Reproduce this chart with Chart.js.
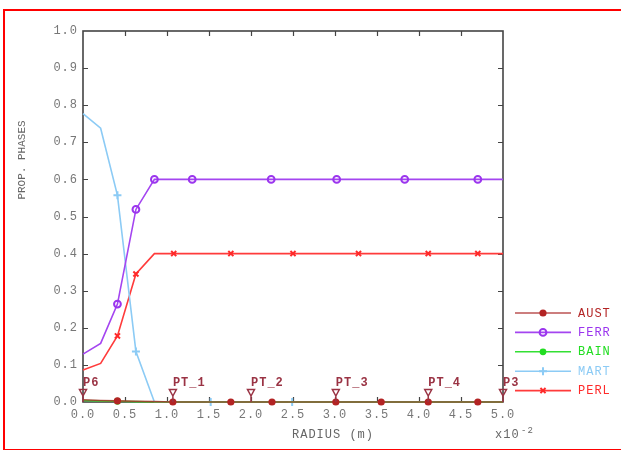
<!DOCTYPE html>
<html>
<head>
<meta charset="utf-8">
<script src="https://cdn.jsdelivr.net/npm/chart.js@4.4.1/dist/chart.umd.min.js"></script>
<style>
  html, body { margin: 0; padding: 0; background: #fff; }
  #wrap { position: relative; width: 621px; height: 450px; overflow: hidden; }
  #frame { position: absolute; left: 3px; top: 9px; width: 640px; height: 438px; border: 2px solid #f00; }
  canvas { position: absolute; left: 0; top: 0; }
</style>
</head>
<body>
<div id="wrap"><div id="frame"></div><canvas id="chart" width="621" height="450"></canvas></div>
<script>
// radius in units of 1e-2 m
const austX = [0, 0.21, 0.41, 0.63, 0.85, 1.07, 1.76, 2.25, 3.01, 3.55, 4.11, 4.70, 5.0];
const austY = [0.006, 0.004, 0.003, 0.002, 0.001, 0, 0, 0, 0, 0, 0, 0, 0];
const austMarks = [2, 5, 6, 7, 8, 9, 10, 11];

const ferrX = [0, 0.21, 0.41, 0.63, 0.85, 1.30, 2.24, 3.02, 3.83, 4.70, 5.0];
const ferrY = [0.129, 0.158, 0.264, 0.519, 0.600, 0.600, 0.600, 0.600, 0.600, 0.600, 0.600];
const ferrMarks = [2, 3, 4, 5, 6, 7, 8, 9];

const bainX = [0, 0.21, 0.41, 0.63, 0.85, 5.0];
const bainY = [0.004, 0.003, 0.002, 0.001, 0, 0];
const bainMarks = [2];

const martX = [0, 0.21, 0.41, 0.63, 0.85, 1.52, 2.49, 5.0];
const martY = [0.777, 0.738, 0.557, 0.136, 0, 0, 0, 0];
const martMarks = [2, 3, 5, 6];

const perlX = [0, 0.21, 0.41, 0.63, 0.85, 1.08, 1.76, 2.50, 3.28, 4.11, 4.70, 5.0];
const perlY = [0.086, 0.104, 0.178, 0.345, 0.400, 0.400, 0.400, 0.400, 0.400, 0.400, 0.400, 0.400];
const perlMarks = [2, 3, 5, 6, 7, 8, 9, 10];

const ptLabels = ['P6', 'PT_1', 'PT_2', 'PT_3', 'PT_4', 'P3'];
const ptPos = [0, 1.07, 2.0, 3.01, 4.11, 5.0];

const MONO = '"Liberation Mono", "DejaVu Sans Mono", monospace';

function pts(xs, ys) {
    return xs.map((x, i) => ({ x: x, y: ys[i] }));
}
function radii(xs, marks, r) {
    return xs.map((_, i) => marks.includes(i) ? r : 0);
}

function series(label, xs, ys, marks, color, lineColor, style, r, fill) {
    return {
        label: label,
        data: pts(xs, ys),
        borderColor: lineColor,
        borderWidth: 1.6,
        pointBorderColor: color,
        pointBackgroundColor: fill,
        pointBorderWidth: 2,
        pointStyle: style,
        pointRadius: radii(xs, marks, r),
        tension: 0,
        clip: 8,
        markColor: color
    };
}

const datasets = [
    series('AUST', austX, austY, austMarks, '#b32424', 'rgba(170,40,40,0.8)', 'circle', 2.6, '#b32424'),
    series('FERR', ferrX, ferrY, ferrMarks, '#9b35ee', '#a445f0', 'circle', 3.4, 'rgba(255,255,255,0)'),
    series('BAIN', bainX, bainY, bainMarks, '#22dd22', '#33e033', 'circle', 2.4, '#22dd22'),
    series('MART', martX, martY, martMarks, '#8ccbf5', '#8ccbf5', 'cross', 4, '#8ccbf5'),
    series('PERL', perlX, perlY, perlMarks, '#ff2a2a', '#ff3b3b', 'crossRot', 3.6, '#ff2a2a')
];

const decor = {
    id: 'decor',
    beforeDraw(chart) {
        // the reference text is set a little wider than Liberation Mono
        chart.ctx.letterSpacing = '1px';
    },
    beforeDatasetsDraw(chart) {
        const { ctx, chartArea: a, scales: { x, y } } = chart;
        ctx.save();
        ctx.strokeStyle = '#444';
        ctx.lineWidth = 1.6;
        ctx.strokeRect(a.left, a.top, a.right - a.left, a.bottom - a.top);
        ctx.lineWidth = 1.2;
        ctx.beginPath();
        x.ticks.forEach(t => {
            if (t.value <= x.min || t.value >= x.max) return;
            const px = Math.round(x.getPixelForValue(t.value)) + 0.5;
            ctx.moveTo(px, a.bottom); ctx.lineTo(px, a.bottom - 5);
            ctx.moveTo(px, a.top); ctx.lineTo(px, a.top + 5);
        });
        y.ticks.forEach(t => {
            if (t.value <= y.min || t.value >= y.max) return;
            const py = Math.round(y.getPixelForValue(t.value)) + 0.5;
            ctx.moveTo(a.left, py); ctx.lineTo(a.left + 5, py);
            ctx.moveTo(a.right, py); ctx.lineTo(a.right - 5, py);
        });
        ctx.stroke();
        ctx.restore();
    },
    afterDatasetsDraw(chart) {
        const { ctx, chartArea: a, scales: { x } } = chart;
        ctx.save();
        ctx.strokeStyle = '#9a3344';
        ctx.fillStyle = '#9a3344';
        ctx.lineWidth = 1.5;
        ctx.font = 'bold 12px ' + MONO;
        ctx.textAlign = 'left';
        ctx.textBaseline = 'alphabetic';
        ptPos.forEach((v, i) => {
            const px = x.getPixelForValue(v);
            ctx.beginPath();
            ctx.moveTo(px - 3.5, 389.5);
            ctx.lineTo(px + 3.5, 389.5);
            ctx.lineTo(px, 396);
            ctx.closePath();
            ctx.moveTo(px, 396);
            ctx.lineTo(px, a.bottom);
            ctx.stroke();
            ctx.fillText(ptLabels[i], px, 386);
        });
        ctx.restore();
    },
    afterDraw(chart) {
        const { ctx } = chart;
        ctx.save();
        ctx.fillStyle = '#666';
        ctx.textBaseline = 'middle';
        ctx.textAlign = 'center';
        ctx.font = '11px ' + MONO;
        ctx.letterSpacing = '0px';
        ctx.translate(22, 160);
        ctx.rotate(-Math.PI / 2);
        ctx.fillText('PROP. PHASES', 0, 0);
        ctx.restore();

        ctx.save();
        ctx.fillStyle = '#666';
        ctx.textBaseline = 'middle';
        ctx.textAlign = 'center';
        ctx.font = '12px ' + MONO;
        ctx.fillText('RADIUS (m)', 333, 435);
        ctx.textAlign = 'left';
        ctx.fillText('x10', 495, 435);
        ctx.font = '9px ' + MONO;
        ctx.fillText('-2', 521, 431);

        // legend
        ctx.font = '12px ' + MONO;
        chart.data.datasets.forEach((ds, i) => {
            const ly = 313 + i * 19.4;
            ctx.strokeStyle = ds.borderColor;
            ctx.lineWidth = 1.6;
            ctx.beginPath();
            ctx.moveTo(515, ly); ctx.lineTo(571, ly);
            ctx.stroke();
            ctx.strokeStyle = ds.markColor;
            ctx.fillStyle = ds.pointBackgroundColor;
            ctx.lineWidth = 2;
            const r = Math.max(...ds.pointRadius);
            Chart.helpers.drawPoint(ctx, { pointStyle: ds.pointStyle, radius: r, borderWidth: 2, rotation: 0 }, 543, ly);
            ctx.fillStyle = ds.markColor;
            ctx.textAlign = 'left';
            ctx.fillText(ds.label, 578, ly + 0.5);
        });
        ctx.restore();
    }
};

new Chart(document.getElementById('chart'), {
    type: 'line',
    data: { datasets: datasets },
    options: {
        responsive: false,
        animation: false,
        events: [],
        layout: { padding: { top: 31, right: 118, left: 0, bottom: 0 } },
        plugins: { legend: { display: false }, tooltip: { enabled: false } },
        scales: {
            x: {
                type: 'linear',
                min: 0,
                max: 5,
                grid: { display: false, drawTicks: false },
                border: { display: false },
                ticks: {
                    stepSize: 0.5,
                    padding: 6,
                    color: '#777',
                    font: { family: MONO, size: 12 },
                    maxRotation: 0,
                    callback: v => v.toFixed(1)
                },
                afterFit: s => { s.height = 48; }
            },
            y: {
                min: 0,
                max: 1,
                grid: { display: false, drawTicks: false },
                border: { display: false },
                ticks: {
                    stepSize: 0.1,
                    padding: 5,
                    color: '#777',
                    font: { family: MONO, size: 12 },
                    callback: v => v.toFixed(1)
                },
                afterFit: s => { s.width = 83; }
            }
        }
    },
    plugins: [decor]
});
</script>
</body>
</html>
